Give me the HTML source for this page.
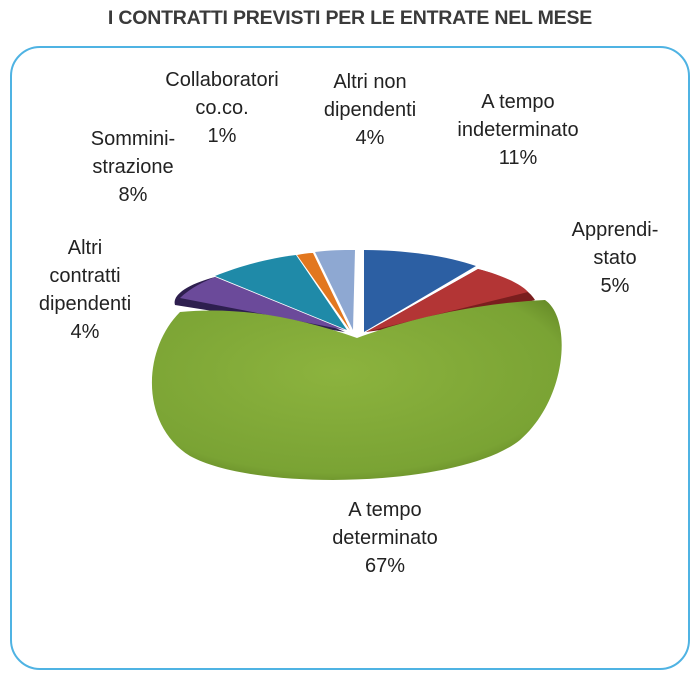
<!DOCTYPE html>
<html><head><style>
body{margin:0;background:#fff;width:700px;height:679px;overflow:hidden;font-family:"Liberation Sans",sans-serif}
.t{position:absolute;left:0;width:700px;top:7px;text-align:center;font-weight:bold;font-size:19.5px;color:#3a3a3a;letter-spacing:-0.2px}
.box{position:absolute;left:10px;top:46px;width:676px;height:620px;border:2px solid #4fb3e3;border-radius:30px}
.l{position:absolute;width:200px;margin-left:-100px;text-align:center;font-size:20px;color:#222;line-height:28px}
</style></head><body>
<div class="t">I CONTRATTI PREVISTI PER LE ENTRATE NEL MESE</div>
<div class="box"></div>
<svg width="700" height="679" style="position:absolute;left:0;top:0">
<defs>
<radialGradient id="g" cx="0.45" cy="0.4" r="0.7"><stop offset="0" stop-color="#8cb33e"/><stop offset="0.8" stop-color="#7aa334"/><stop offset="1" stop-color="#5d7f22"/></radialGradient>
</defs>
<path d="M345,332 L175,305 C172,296 185,285 215,277 Z" fill="#2e1f4f"/>
<path d="M345,330 L180,298 C190,288 205,281 215,277 Z" fill="#6b4a9a"/>
<path d="M347,330 L215,276 C240,266 270,258 296,255 Z" fill="#1f8aa8"/>
<path d="M350,330 L297,255 C302,254 308,253 313,253 Z" fill="#e2771f"/>
<path d="M353,330 L315,252 C330,250 342,250 355,250 Z" fill="#8ea8d2"/>
<path d="M364,332 L364,250 C410,250 450,257 476,266 Z" fill="#2c5fa3"/>
<path d="M366,332 L478,269 C505,276 528,288 535,300 C520,305 470,315 420,325 Z" fill="#7a1e1e"/>
<path d="M366,332 L478,269 C505,276 522,285 528,292 Z" fill="#b33535"/>
<path d="M357,338 C410,318 480,303 545,300 C572,318 568,398 520,440 C460,488 255,492 190,456 C140,425 142,350 180,312 C240,306 300,318 357,338 Z" fill="url(#g)"/>
</svg>
<div class="l" style="left:222px;top:66px">Collaboratori<br>co.co.<br>1%</div>
<div class="l" style="left:370px;top:68px">Altri non<br>dipendenti<br>4%</div>
<div class="l" style="left:518px;top:88px">A tempo<br>indeterminato<br>11%</div>
<div class="l" style="left:133px;top:125px">Sommini-<br>strazione<br>8%</div>
<div class="l" style="left:615px;top:216px">Apprendi-<br>stato<br>5%</div>
<div class="l" style="left:85px;top:234px">Altri<br>contratti<br>dipendenti<br>4%</div>
<div class="l" style="left:385px;top:496px">A tempo<br>determinato<br>67%</div>
</body></html>
